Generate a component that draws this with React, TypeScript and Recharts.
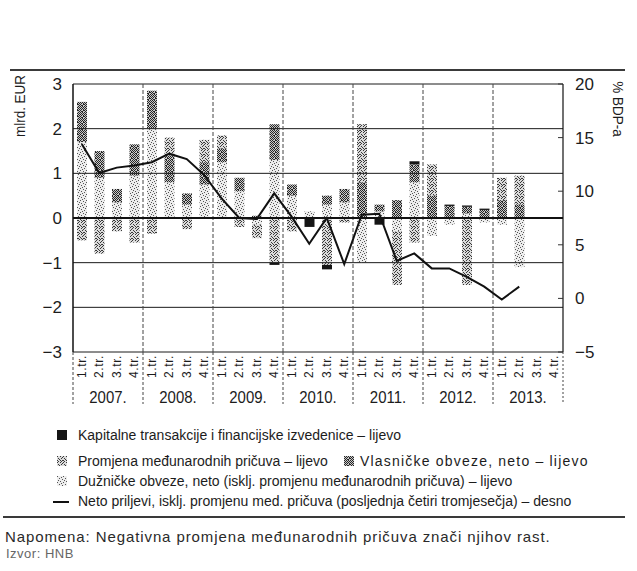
import React from "react";
import { Bar, CartesianGrid, ComposedChart, Line, ReferenceLine, XAxis, YAxis } from "recharts";

const years = ["2007.", "2008.", "2009.", "2010.", "2011.", "2012.", "2013."];
const quarterLabels = ["1.tr.", "2.tr.", "3.tr.", "4.tr."];

// mlrd. EUR, left axis
const kapitalne = [0, 0, 0, 0, 0, 0, 0, 0, 0, 0, 0, -0.05, 0, -0.2, -0.1, 0, 0, -0.15, 0, 0.07, 0, 0.03, 0.03, 0.03, 0, 0, null, null];
const promjena = [-0.5, -0.8, -0.3, -0.55, -0.35, 0.4, -0.25, 0.5, 0.3, -0.2, -0.3, -1.0, -0.3, 0, -1.05, -0.1, 1.3, 0, -1.2, -0.55, 0.7, 0, -1.5, 0, 0.5, 0.65, null, null];
const vlasnicke = [0.9, 0.6, 0.3, 0.7, 0.85, 0.6, 0.25, 0.5, 0.3, 0.3, 0.05, 0.8, 0.25, 0, 0.2, 0.3, 0.8, 0.15, 0.4, 0.4, 0.5, 0.27, 0.15, 0.18, 0.4, 0.3, null, null];
const duznicke = [1.7, 0.9, 0.35, 0.95, 2.0, 0.8, 0.3, 0.75, 1.25, 0.6, -0.15, 1.3, 0.5, 0.15, 0.3, 0.35, -1.0, 0.15, -0.3, 0.8, -0.4, -0.15, 0.1, -0.1, -0.15, -1.1, null, null];
// % BDP-a, right axis
const netoPrilijevi = [14.4, 11.7, 12.2, 12.4, 12.7, 13.5, 13.0, 11.5, 9.3, 7.5, 7.4, 9.8, 7.6, 5.1, 7.5, 3.2, 7.8, 7.9, 3.5, 4.2, 2.8, 2.8, 2.0, 1.1, -0.1, 1.1, null, null];

const leftTicks = [-3, -2, -1, 0, 1, 2, 3];
const rightTicks = [-5, 0, 5, 10, 15, 20];

const data = years.flatMap((y, yi) =>
  quarterLabels.map((q, qi) => {
    const i = yi * 4 + qi;
    return {
      key: y + q,
      kapitalne: kapitalne[i],
      promjena: promjena[i],
      vlasnicke: vlasnicke[i],
      duznicke: duznicke[i],
      neto: netoPrilijevi[i],
    };
  })
);

const NARROW = "'Liberation Sans Narrow', 'Liberation Sans', Arial, sans-serif";
const SANS = "'Liberation Sans', Arial, sans-serif";
const INK = "#1c1c1c";

const W = 637;
const CHART_H = 420;
const PLOT_LEFT = 73;
const PLOT_RIGHT = 563;
const TOP = 84;
const PLOT_H = 268;
const half = (PLOT_RIGHT - PLOT_LEFT) / data.length / 2;

const minus = (v: number) => (v < 0 ? "\u2212" + Math.abs(v) : String(v));

// speckle texture cells for the scanned-looking bar fills
const speckle = (cells: number[][], color: string) =>
  cells.map(([cx, cy], k) => <rect key={k} x={cx} y={cy} width={1} height={1} fill={color} />);

const XTick = (props: any) => {
  const { x, y, index } = props;
  const q = index % 4;
  return (
    <g>
      <text
        transform={`translate(${x + 4},${y + 3}) rotate(-90)`}
        textAnchor="end"
        fontSize={12}
        letterSpacing={0.6}
        fontFamily={NARROW}
        fill={INK}
      >
        {quarterLabels[q]}
      </text>
      {q === 0 && (
        <line x1={x - half} x2={x - half} y1={y} y2={y + 52} stroke="#444" strokeDasharray="3 2" />
      )}
      {index === data.length - 1 && (
        <line x1={x + half} x2={x + half} y1={y} y2={y + 52} stroke="#444" strokeDasharray="2 2" />
      )}
      {q === 1 && (
        <text
          transform={`translate(${x + half},${y + 51}) scale(0.88,1)`}
          textAnchor="middle"
          fontSize={17}
          fontFamily={NARROW}
          fill={INK}
        >
          {years[Math.floor(index / 4)]}
        </text>
      )}
    </g>
  );
};

const LeftTick = (props: any) => {
  const { x, y, payload } = props;
  return (
    <text x={x} y={y} dy={6} textAnchor="end" fontSize={17} fontFamily={NARROW} fill={INK}>
      {minus(payload.value)}
    </text>
  );
};

const RightTick = (props: any) => {
  const { x, y, payload } = props;
  return (
    <g>
      <line x1={x - 17} x2={x - 12} y1={y} y2={y} stroke="#333" />
      <text x={x} y={y} dy={6} textAnchor="start" fontSize={17} fontFamily={NARROW} fill={INK}>
        {minus(payload.value)}
      </text>
    </g>
  );
};

const Patterns = () => (
  <svg width={0} height={0} style={{ position: "absolute" }}>
    <defs>
      <pattern id="patR" width={6} height={6} patternUnits="userSpaceOnUse">
        <rect width={6} height={6} fill="#000" opacity={0.14} />
        {speckle([[0, 0], [3, 0], [5, 1], [1, 2], [4, 2], [2, 3], [0, 4], [3, 4], [5, 4], [1, 5], [4, 5]], "#3a3a3a")}
      </pattern>
      <pattern id="patV" width={6} height={6} patternUnits="userSpaceOnUse">
        <rect width={6} height={6} fill="#000" opacity={0.22} />
        {speckle(
          [[0, 0], [2, 0], [4, 0], [1, 1], [3, 1], [5, 1], [0, 2], [2, 2], [5, 2], [1, 3], [3, 3], [4, 3], [0, 4], [2, 4], [4, 4], [1, 5], [3, 5], [5, 5]],
          "#262626"
        )}
      </pattern>
      <pattern id="patD" width={6} height={6} patternUnits="userSpaceOnUse">
        <rect width={6} height={6} fill="#000" opacity={0.07} />
        {speckle([[0, 0], [4, 1], [2, 2], [5, 3], [1, 4], [3, 5]], "#555")}
      </pattern>
    </defs>
  </svg>
);

const Swatch = ({ fill }: { fill: string }) => (
  <svg width={10} height={10} style={{ position: "absolute", left: 0, top: 4 }}>
    <rect width={10} height={10} fill={fill} />
  </svg>
);

const legendText: React.CSSProperties = {
  position: "absolute",
  fontFamily: SANS,
  fontSize: 14,
  color: INK,
  whiteSpace: "nowrap",
  lineHeight: "18px",
};

export default function App() {
  return (
    <div style={{ position: "absolute", left: 0, top: 0, width: W, height: 571, background: "#fff", overflow: "hidden" }}>
      <Patterns />
      <div style={{ position: "absolute", left: 10, top: 69, width: 615, height: 2, background: "#3a3a3a" }} />

      <ComposedChart
        width={W}
        height={CHART_H}
        data={data}
        stackOffset="sign"
        margin={{ top: TOP, right: 0, bottom: 0, left: 0 }}
      >
        <CartesianGrid yAxisId="left" vertical={false} stroke="#1a1a1a" strokeWidth={1} />
        <XAxis
          dataKey="key"
          interval={0}
          tickSize={0}
          tickMargin={0}
          axisLine={false}
          tickLine={false}
          height={CHART_H - TOP - PLOT_H}
          tick={<XTick />}
        />
        <YAxis
          yAxisId="left"
          orientation="left"
          width={PLOT_LEFT}
          domain={[-3, 3]}
          ticks={leftTicks}
          tickSize={0}
          tickMargin={11}
          tickLine={false}
          axisLine={{ stroke: "#111", strokeWidth: 1.5 }}
          tick={<LeftTick />}
        />
        <YAxis
          yAxisId="right"
          orientation="right"
          width={W - PLOT_RIGHT}
          domain={[-5, 20]}
          ticks={rightTicks}
          tickSize={0}
          tickMargin={12}
          tickLine={false}
          axisLine={{ stroke: "#111", strokeWidth: 1.2 }}
          tick={<RightTick />}
        />
        {[1, 2, 3, 4, 5, 6].map((yi) => (
          <ReferenceLine
            key={yi}
            yAxisId="left"
            x={data[yi * 4].key}
            position="start"
            stroke="#444"
            strokeDasharray="4 2"
          />
        ))}
        <ReferenceLine yAxisId="left" y={0} stroke="#111" strokeWidth={1.8} />
        <Bar yAxisId="left" dataKey="duznicke" stackId="a" fill="url(#patD)" barSize={10} isAnimationActive={false} />
        <Bar yAxisId="left" dataKey="vlasnicke" stackId="a" fill="url(#patV)" barSize={10} isAnimationActive={false} />
        <Bar yAxisId="left" dataKey="promjena" stackId="a" fill="url(#patR)" barSize={10} isAnimationActive={false} />
        <Bar yAxisId="left" dataKey="kapitalne" stackId="a" fill="#151515" barSize={10} isAnimationActive={false} />
        <Line
          yAxisId="right"
          dataKey="neto"
          type="linear"
          stroke="#111"
          strokeWidth={2}
          dot={false}
          isAnimationActive={false}
        />
      </ComposedChart>

      <svg width={W} height={CHART_H} style={{ position: "absolute", left: 0, top: 0, pointerEvents: "none" }}>
        <text transform="translate(25,106) rotate(-90) scale(0.9,1)" textAnchor="middle" fontSize={15} fontFamily={NARROW} fill={INK}>
          mlrd. EUR
        </text>
        <text transform="translate(613,109) rotate(90) scale(0.9,1)" textAnchor="middle" fontSize={15} fontFamily={NARROW} fill={INK}>
          % BDP-a
        </text>
      </svg>

      <div style={{ ...legendText, left: 57, top: 426, paddingLeft: 21 }}>
        <Swatch fill="#151515" />
        Kapitalne transakcije i financijske izvedenice – lijevo
      </div>
      <div style={{ ...legendText, left: 57, top: 452, paddingLeft: 21 }}>
        <Swatch fill="url(#patR)" />
        Promjena međunarodnih pričuva – lijevo
      </div>
      <div style={{ ...legendText, left: 344, top: 452, paddingLeft: 16, letterSpacing: 1.2 }}>
        <Swatch fill="url(#patV)" />
        Vlasničke obveze, neto – lijevo
      </div>
      <div style={{ ...legendText, left: 57, top: 472, paddingLeft: 21 }}>
        <Swatch fill="url(#patD)" />
        Dužničke obveze, neto (isklj. promjenu međunarodnih pričuva) – lijevo
      </div>
      <div style={{ ...legendText, left: 53, top: 492, paddingLeft: 25 }}>
        <div style={{ position: "absolute", left: 0, top: 9, width: 16, height: 2, background: "#111" }} />
        Neto priljevi, isklj. promjenu med. pričuva (posljednja četiri tromjesečja) – desno
      </div>

      <div style={{ position: "absolute", left: 3, top: 516, width: 622, height: 2, background: "#3a3a3a" }} />

      <div style={{ position: "absolute", left: 5, top: 528, fontFamily: SANS, fontSize: 15, letterSpacing: 0.9, color: "#2a2a2a", whiteSpace: "nowrap" }}>
        Napomena: Negativna promjena međunarodnih pričuva znači njihov rast.
      </div>
      <div style={{ position: "absolute", left: 6, top: 546, fontFamily: SANS, fontSize: 13, letterSpacing: 0.5, color: "#666", whiteSpace: "nowrap" }}>
        Izvor: HNB
      </div>
    </div>
  );
}
